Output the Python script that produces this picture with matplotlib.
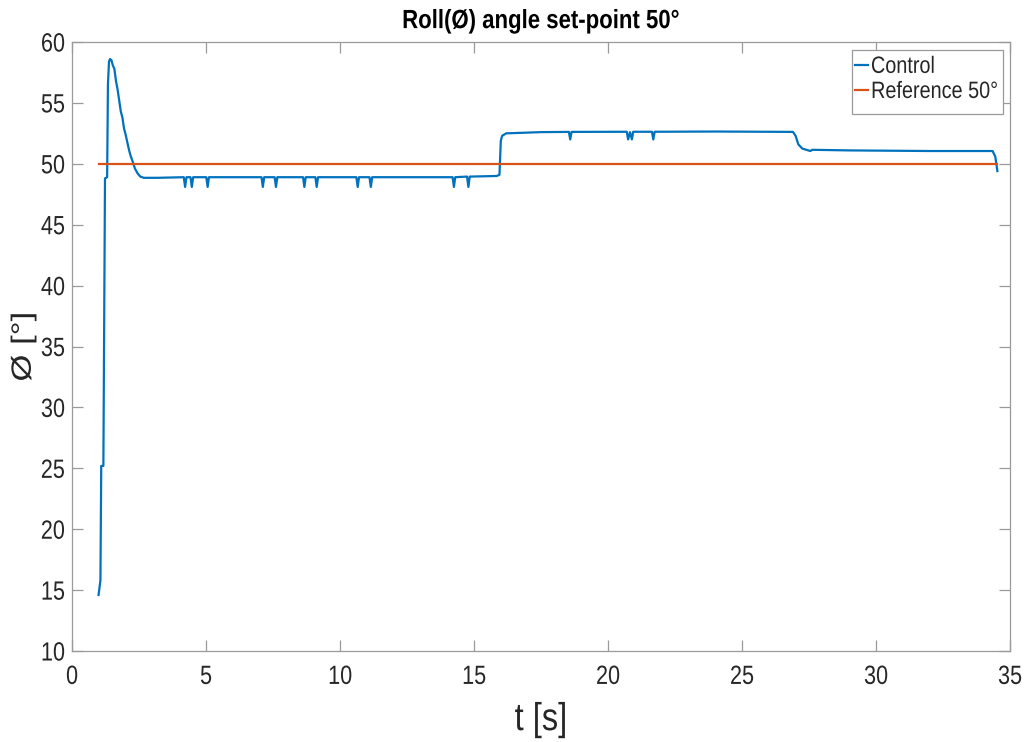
import matplotlib
matplotlib.use('Agg')
import matplotlib.pyplot as plt
from matplotlib.patheffects import AbstractPathEffect
from matplotlib.transforms import Affine2D
from matplotlib.patches import Rectangle

REG = 'Liberation Sans'
plt.rcParams['font.family'] = [REG, 'DejaVu Sans']


class Squeeze(AbstractPathEffect):
    """Compress drawn text horizontally (screen x) about an anchor."""
    def __init__(self, sx=0.82, anchor='center', dx=0.0):
        super().__init__()
        self.sx = sx
        self.anchor = anchor
        self.dx = dx

    def draw_path(self, renderer, gc, tpath, affine, rgbFace=None):
        ext = affine.transform_path(tpath).get_extents()
        if self.anchor == 'left':
            cx = ext.x0
        elif self.anchor == 'right':
            cx = ext.x1
        else:
            cx = 0.5 * (ext.x0 + ext.x1)
        new = affine + Affine2D().translate(-cx, 0).scale(self.sx, 1).translate(cx + self.dx, 0)
        renderer.draw_path(gc, tpath, new, rgbFace)


# ---- data ----
control_t = [0.99, 1.06, 1.09, 1.17, 1.23, 1.31, 1.34, 1.38, 1.42, 1.47, 1.52, 1.58,
             1.64, 1.70, 1.76, 1.82, 1.88, 1.94, 2.00, 2.06, 2.12, 2.18, 2.26, 2.35,
             2.45, 2.55, 2.68, 3.20,
             4.17, 4.22, 4.27, 4.42, 4.47, 4.52, 5.01, 5.06, 5.11,
             7.07, 7.12, 7.17, 7.56, 7.61, 7.66, 8.62, 8.67, 8.72, 9.08, 9.13, 9.18,
             10.61, 10.66, 10.71, 11.10, 11.15, 11.20, 14.20, 14.25, 14.30,
             14.74, 14.79, 14.84, 15.85, 15.95, 16.00, 16.05, 16.20, 17.50,
             18.54, 18.59, 18.64, 20.70, 20.75, 20.82, 20.89, 20.94,
             21.64, 21.69, 21.74, 24.00, 26.90, 27.00, 27.10, 27.25, 27.40,
             27.55, 27.62, 29.00, 32.00, 34.35, 34.45, 34.53]
control_y = [14.6, 15.8, 25.2, 25.2, 48.8, 48.9, 56.5, 58.4, 58.6, 58.5, 58.1, 57.8,
             56.8, 56.1, 55.2, 54.3, 53.8, 52.9, 52.4, 51.8, 51.2, 50.7, 50.2, 49.6,
             49.2, 48.95, 48.85, 48.85,
             48.9, 48.1, 48.9, 48.9, 48.1, 48.9, 48.9, 48.1, 48.9,
             48.9, 48.1, 48.9, 48.9, 48.1, 48.9, 48.9, 48.1, 48.9, 48.9, 48.1, 48.9,
             48.9, 48.1, 48.9, 48.9, 48.1, 48.9, 48.9, 48.1, 48.9,
             48.95, 48.1, 48.95, 49.0, 49.1, 51.9, 52.3, 52.5, 52.6,
             52.62, 52.0, 52.62, 52.63, 52.0, 52.6, 52.0, 52.63,
             52.63, 52.0, 52.63, 52.65, 52.62, 52.3, 51.6, 51.25, 51.15,
             51.05, 51.15, 51.1, 51.05, 51.05, 50.6, 49.4]

reference_t = [0.99, 34.53]
reference_y = [50, 50]

xticks = [0, 5, 10, 15, 20, 25, 30, 35]
yticks = [10, 15, 20, 25, 30, 35, 40, 45, 50, 55, 60]

# ---- figure ----
fig = plt.figure(figsize=(10.26, 7.42), dpi=100)
ax = fig.add_axes([0.0702, 0.1226, 0.9142, 0.8208])

ax.plot(control_t, control_y, color='#0072BD', lw=1.6, label='Control')
ax.plot(reference_t, reference_y, color='#D95319', lw=1.6, label='Reference 50°')

ax.set_xlim(0, 35)
ax.set_ylim(10, 60)
ax.set_xticks(xticks)
ax.set_yticks(yticks)

grey = '#9a9a9a'
dark = '#262626'
for s in ax.spines.values():
    s.set_color(grey)
    s.set_linewidth(0.9)
ax.tick_params(direction='in', length=8, width=0.9, color=grey,
               top=True, right=True, labelsize=19, labelcolor=dark)
ax.tick_params(axis='x', pad=10)
ax.tick_params(axis='y', pad=5)

for lbl in ax.get_xticklabels():
    lbl.set_path_effects([Squeeze(0.82, 'center')])
for lbl in ax.get_yticklabels():
    lbl.set_path_effects([Squeeze(0.82, 'right')])

xl = ax.set_xlabel('t [s]', fontsize=28, color=dark, labelpad=9.5)
xl.set_path_effects([Squeeze(0.84, 'center')])
yl = ax.set_ylabel('Ø [°]', fontsize=25, color=dark, labelpad=0.5)
yl.set_path_effects([Squeeze(0.8, 'center', dx=4.5)])
tt = ax.set_title('Roll(Ø) angle set-point 50°', fontsize=19, fontweight='bold', pad=10)
tt.set_path_effects([Squeeze(0.84, 'center')])

# legend (frame drawn separately so it fits the compressed text)
leg = ax.legend(loc='upper left', bbox_to_anchor=(0.8284, 0.9869), borderaxespad=0,
                fontsize=17, handlelength=0.55, handletextpad=0.12, borderpad=0.25,
                labelspacing=0.13, frameon=False)
for t in leg.get_texts():
    t.set_color(dark)
    t.set_path_effects([Squeeze(0.84, 'left')])
ax.add_patch(Rectangle((0.8316, 0.8818), 0.9925 - 0.8316, 0.9869 - 0.8818,
                       transform=ax.transAxes, facecolor='white', edgecolor=grey,
                       lw=0.9, zorder=4.5))
leg.set_zorder(5)

fig.savefig('out.png', dpi=100)
